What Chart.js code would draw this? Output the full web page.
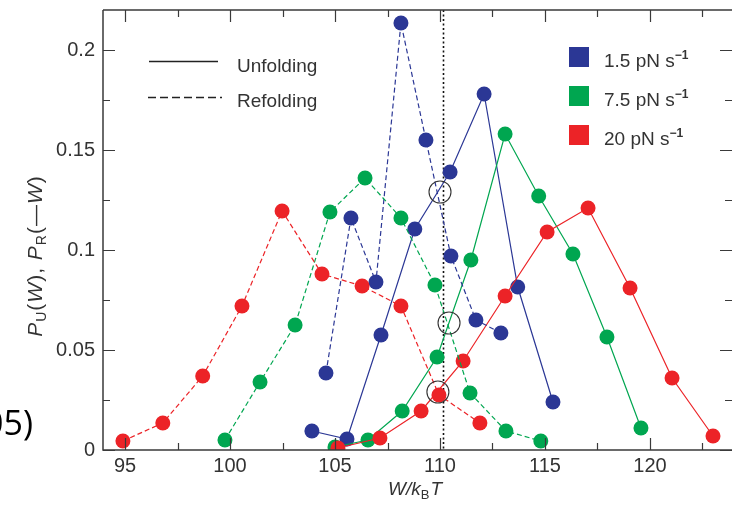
<!DOCTYPE html>
<html>
<head>
<meta charset="utf-8">
<script src="https://cdn.jsdelivr.net/npm/chart.js@4.4.1/dist/chart.umd.min.js"></script>
<style>
  html, body { margin: 0; padding: 0; background: #fff; }
  #wrap { position: relative; width: 732px; height: 511px; }
</style>
</head>
<body>
<div id="wrap"><canvas id="c" width="732" height="511"></canvas></div>
<script>
// ---- data ----
const blueRefX  = [104.57, 105.76, 106.95, 108.14, 109.33, 110.52, 111.71, 112.9];
const blueRefY  = [0.0385, 0.116, 0.084, 0.2135, 0.155, 0.097, 0.065, 0.0585];
const blueUnfX  = [103.9, 105.57, 107.19, 108.8, 110.48, 112.1, 113.7, 115.38];
const blueUnfY  = [0.0095, 0.0055, 0.0575, 0.1105, 0.139, 0.178, 0.0815, 0.024];
const greenRefX = [99.76, 101.43, 103.1, 104.76, 106.43, 108.14, 109.76, 111.43, 113.14, 114.8];
const greenRefY = [0.005, 0.034, 0.0625, 0.119, 0.136, 0.116, 0.0825, 0.0285, 0.0095, 0.0045];
const greenUnfX = [105.0, 106.57, 108.2, 109.86, 111.47, 113.1, 114.7, 116.33, 117.95, 119.57];
const greenUnfY = [0.0015, 0.005, 0.0195, 0.0465, 0.095, 0.158, 0.127, 0.098, 0.0565, 0.011];
const redRefX   = [94.9, 96.8, 98.7, 100.57, 102.48, 104.38, 106.29, 108.14, 109.95, 111.9];
const redRefY   = [0.0045, 0.0135, 0.037, 0.072, 0.1195, 0.088, 0.082, 0.072, 0.0275, 0.0135];
const redUnfX   = [105.14, 107.14, 109.1, 111.1, 113.1, 115.1, 117.05, 119.05, 121.05, 123.0];
const redUnfY   = [0.001, 0.006, 0.0195, 0.0445, 0.077, 0.109, 0.121, 0.081, 0.036, 0.007];
const crossX    = [110.0, 110.43, 109.9];
const crossY    = [0.129, 0.0635, 0.029];
const dottedX   = 110.14;
const xTickValues = [95, 100, 105, 110, 115, 120];
const yTickValues = [0, 0.05, 0.1, 0.15, 0.2];
const yTickLabels = ['0', '0.05', '0.1', '0.15', '0.2'];
const rateLabels  = ['1.5 pN s', '7.5 pN s', '20 pN s'];
const modeLabels  = ['Unfolding', 'Refolding'];

const BLUE = '#2b3795', GREEN = '#00a650', RED = '#ec2327', INK = '#333333';

function pts(xs, ys) { return xs.map((x, i) => ({ x: x, y: ys[i] })); }
function series(xs, ys, color, dashed) {
  return {
    data: pts(xs, ys), showLine: true, borderColor: color, borderWidth: 1.2,
    borderDash: dashed ? [5, 3] : [], pointRadius: 7.5, pointHoverRadius: 7.5,
    pointBackgroundColor: color, pointBorderWidth: 0, backgroundColor: color, order: 1
  };
}

const FONT = '"Liberation Sans", Arial, Helvetica, sans-serif';

function noPad(s) { s.paddingTop = 0; s.paddingBottom = 0; s.paddingLeft = 0; s.paddingRight = 0; }

const decor = {
  id: 'decor',
  beforeDatasetsDraw(chart) {
    const ctx = chart.ctx, xs = chart.scales.x, a = chart.chartArea;
    ctx.save();
    ctx.strokeStyle = '#111'; ctx.lineWidth = 1.6; ctx.setLineDash([2, 2.5]);
    const dx = Math.round(xs.getPixelForValue(dottedX)) + 0.5;
    ctx.beginPath(); ctx.moveTo(dx, a.top); ctx.lineTo(dx, a.bottom); ctx.stroke();
    ctx.restore();
  },
  afterDraw(chart) {
    const ctx = chart.ctx, xs = chart.scales.x, ys = chart.scales.y, a = chart.chartArea;
    ctx.save();
    // frame
    ctx.strokeStyle = '#3a3a3a'; ctx.lineWidth = 1.5; ctx.setLineDash([]);
    ctx.beginPath();
    ctx.moveTo(a.left, a.top); ctx.lineTo(a.right, a.top);
    ctx.moveTo(a.left, a.top); ctx.lineTo(a.left, a.bottom); ctx.lineTo(a.right, a.bottom);
    ctx.stroke();
    // ticks
    ctx.lineWidth = 1.2;
    ctx.beginPath();
    for (let v = 92.5; v <= 125; v += 2.5) {
      if (v < xs.min || v > xs.max) continue;
      const px = Math.round(xs.getPixelForValue(v)) + 0.5;
      const len = (v % 5 === 0) ? 12 : 7;
      ctx.moveTo(px, a.bottom); ctx.lineTo(px, a.bottom - len);
      ctx.moveTo(px, a.top); ctx.lineTo(px, a.top + len);
    }
    for (let k = 0; k <= 8; k++) {
      const v = k * 0.025;
      const py = Math.round(ys.getPixelForValue(v)) + 0.5;
      const len = (k % 2 === 0) ? 12 : 7;
      ctx.moveTo(a.left, py); ctx.lineTo(a.left + len, py);
      ctx.moveTo(a.right, py); ctx.lineTo(a.right - len, py);
    }
    ctx.stroke();

    // line-style legend
    ctx.strokeStyle = '#222'; ctx.lineWidth = 1.3;
    ctx.beginPath(); ctx.moveTo(149, 61.5); ctx.lineTo(218, 61.5); ctx.stroke();
    ctx.setLineDash([8, 4]);
    ctx.beginPath(); ctx.moveTo(148, 97.5); ctx.lineTo(222, 97.5); ctx.stroke();
    ctx.setLineDash([]);
    ctx.fillStyle = INK; ctx.font = '19px ' + FONT; ctx.textAlign = 'left'; ctx.textBaseline = 'alphabetic';
    ctx.fillText(modeLabels[0], 237, 72);
    ctx.fillText(modeLabels[1], 237, 107);

    // colour legend
    const cols = [BLUE, GREEN, RED];
    const tops = [47, 86, 125];
    for (let i = 0; i < 3; i++) {
      ctx.fillStyle = cols[i];
      ctx.fillRect(569, tops[i], 20, 20);
      ctx.fillStyle = INK; ctx.font = '19px ' + FONT;
      const base = tops[i] + 20;
      ctx.fillText(rateLabels[i], 604, base);
      const w = ctx.measureText(rateLabels[i]).width;
      ctx.font = 'bold 12px ' + FONT;
      ctx.fillText('\u22121', 604 + w, base - 8);
    }

    // x title  W/kBT
    ctx.fillStyle = INK;
    ctx.font = 'italic 19px ' + FONT;
    let x0 = 388;
    ctx.fillText('W/k', x0, 495);
    x0 += ctx.measureText('W/k').width;
    ctx.font = '13px ' + FONT;
    ctx.fillText('B', x0, 499);
    x0 += ctx.measureText('B').width + 1;
    ctx.font = 'italic 19px ' + FONT;
    ctx.fillText('T', x0, 495);

    // y title  PU(W), PR(-W)
    ctx.save();
    ctx.translate(42, 256);
    ctx.rotate(-Math.PI / 2);
    try { ctx.letterSpacing = '1px'; } catch (e) {}
    const parts = [
      ['P', 'italic 21px', 0], ['U', '14px', 4], ['(', '21px', 0], ['W', 'italic 21px', 0], [')', '21px', 0],
      [', ', '21px', 0], ['P', 'italic 21px', 0], ['R', '14px', 4], ['(\u2014', '21px', 0], ['W', 'italic 21px', 0], [')', '21px', 0]
    ];
    let tw = 0;
    parts.forEach(p => { ctx.font = p[1] + ' ' + FONT; tw += ctx.measureText(p[0]).width; });
    let cx = -tw / 2;
    parts.forEach(p => { ctx.font = p[1] + ' ' + FONT; ctx.fillText(p[0], cx, p[2]); cx += ctx.measureText(p[0]).width; });
    ctx.restore();

    // cropped caption fragment at left edge
    ctx.fillStyle = '#000';
    ctx.font = '34px "Open Sans", "Liberation Sans", sans-serif';
    ctx.textAlign = 'right';
    ctx.fillText('05)', 33, 435);
    ctx.restore();
  }
};

new Chart(document.getElementById('c'), {
  type: 'scatter',
  data: {
    datasets: [
      { data: pts(crossX, crossY), showLine: false, pointStyle: 'circle', pointRadius: 11, pointHoverRadius: 11,
        pointBackgroundColor: 'rgba(0,0,0,0)', pointBorderColor: '#333', pointBorderWidth: 1.1, order: 0 },
      series(redRefX, redRefY, RED, true),
      series(greenRefX, greenRefY, GREEN, true),
      series(blueRefX, blueRefY, BLUE, true),
      series(redUnfX, redUnfY, RED, false),
      series(greenUnfX, greenUnfY, GREEN, false),
      series(blueUnfX, blueUnfY, BLUE, false)
    ]
  },
  options: {
    responsive: false, animation: false, events: [],
    layout: { padding: { top: 10, right: 0, left: 0, bottom: 0 }, autoPadding: false },
    plugins: { legend: { display: false }, tooltip: { enabled: false } },
    scales: {
      x: {
        type: 'linear', min: 93.952, max: 123.905,
        afterBuildTicks: s => { s.ticks = xTickValues.map(v => ({ value: v })); },
        afterFit: s => { s.height = 61; noPad(s); },
        grid: { display: false, drawTicks: false }, border: { display: false },
        ticks: { font: { size: 20, family: FONT }, color: INK, padding: 4, maxRotation: 0, autoSkip: false,
                 callback: v => String(v) }
      },
      y: {
        type: 'linear', min: 0, max: 0.22,
        afterBuildTicks: s => { s.ticks = yTickValues.map(v => ({ value: v })); },
        afterFit: s => { s.width = 103; noPad(s); },
        grid: { display: false, drawTicks: false }, border: { display: false },
        ticks: { font: { size: 20, family: FONT }, color: INK, padding: 8, autoSkip: false,
                 callback: (v) => yTickLabels[yTickValues.indexOf(v)] }
      }
    }
  },
  plugins: [decor]
});
</script>
</body>
</html>
